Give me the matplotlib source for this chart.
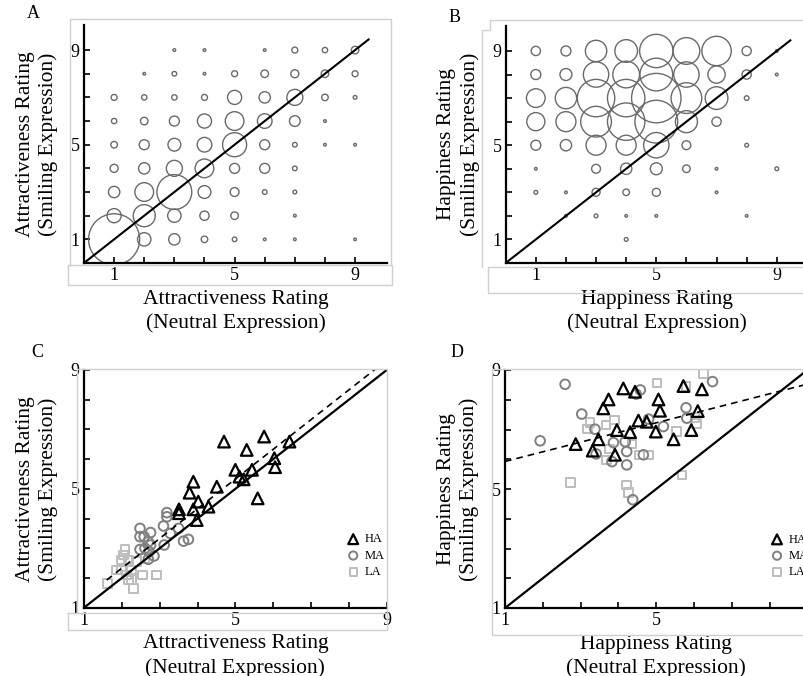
import numpy as np
import matplotlib
matplotlib.use("Agg")
import matplotlib.pyplot as plt
from matplotlib.lines import Line2D

plt.rcParams["font.family"] = ["Liberation Serif", "DejaVu Serif"]

W, H = 804, 676

# ---- panel A / B: rating counts, rows = smiling rating 1..9, cols = neutral rating 1..9
attr_counts = np.array([
    [366, 25, 18, 6, 3, 1, 1, 0, 1],
    [28, 68, 25, 12, 8, 0, 1, 0, 0],
    [18, 49, 170, 23, 11, 3, 2, 0, 0],
    [9, 18, 36, 49, 14, 14, 3, 0, 0],
    [6, 14, 23, 30, 81, 14, 3, 1, 1],
    [4, 8, 14, 28, 49, 30, 16, 1, 0],
    [5, 4, 4, 5, 28, 18, 36, 6, 2],
    [0, 1, 3, 1, 5, 8, 9, 8, 5],
    [0, 0, 1, 1, 0, 1, 5, 4, 8],
])
happy_counts = np.array([
    [0, 0, 0, 2, 0, 0, 0, 0, 0],
    [0, 1, 2, 1, 1, 0, 0, 1, 0],
    [2, 1, 9, 6, 9, 0, 1, 0, 0],
    [1, 0, 11, 18, 20, 8, 1, 0, 2],
    [14, 18, 56, 56, 90, 11, 0, 2, 0],
    [46, 56, 132, 196, 256, 68, 12, 0, 0],
    [49, 64, 196, 196, 342, 132, 72, 3, 0],
    [14, 20, 90, 100, 150, 90, 42, 12, 1],
    [12, 14, 64, 72, 156, 100, 121, 12, 1],
])
ratings = np.arange(1, 10)

# ---- panel C: mean attractiveness per face (neutral, smiling)
attr_ha_x = [4.70, 5.76, 6.43, 5.30, 6.03, 6.05, 5.00, 5.11, 5.22, 5.44,
             3.89, 3.79, 4.51, 5.59, 4.02, 3.89, 4.29, 3.51, 3.51, 3.98]
attr_ha_y = [6.59, 6.76, 6.59, 6.31, 6.03, 5.73, 5.64, 5.41, 5.32, 5.64,
             5.24, 4.87, 5.07, 4.68, 4.57, 4.31, 4.40, 4.31, 4.18, 3.95]
attr_ma_x = [3.19, 3.19, 3.10, 3.50, 3.28, 3.63, 3.76, 3.12, 2.48, 2.48,
             2.59, 2.76, 2.70, 2.48, 2.61, 2.72, 2.85, 2.70, 2.76]
attr_ma_y = [4.20, 4.06, 3.75, 3.67, 3.50, 3.24, 3.30, 3.11, 3.67, 3.39,
             3.39, 3.53, 3.22, 2.96, 3.00, 2.89, 2.74, 2.63, 3.11]
attr_la_x = [2.08, 2.04, 1.99, 1.86, 1.99, 1.62, 2.17, 2.17, 2.26, 2.31,
             2.55, 2.92, 2.39, 2.26, 2.13, 2.61]
attr_la_y = [2.96, 2.77, 2.60, 2.27, 2.27, 1.82, 2.60, 1.93, 1.95, 1.65,
             2.10, 2.10, 2.55, 2.27, 2.10, 2.66]
attr_fit = (1.0, 0.33)          # slope, intercept
attr_fit_range = (1.6, 8.7)

# ---- panel D: mean happiness per face (neutral, smiling)
happy_ha_x = [4.13, 4.44, 3.74, 3.60, 5.06, 5.10, 5.72, 6.21, 6.10, 4.53,
              4.75, 3.96, 4.31, 4.99, 5.93, 5.46, 2.87, 3.47, 3.32, 3.91]
happy_ha_y = [8.38, 8.27, 8.01, 7.71, 8.01, 7.63, 8.46, 8.35, 7.62, 7.30,
              7.26, 6.98, 6.91, 6.93, 6.98, 6.67, 6.51, 6.67, 6.29, 6.15]
happy_ma_x = [2.59, 1.93, 3.03, 3.38, 3.41, 3.83, 3.87, 4.18, 4.22, 4.22,
              4.38, 4.58, 4.47, 4.80, 5.19, 4.66, 5.79, 5.81, 6.49]
happy_ma_y = [8.52, 6.62, 7.52, 7.01, 6.18, 5.92, 6.56, 6.59, 6.26, 5.81,
              4.64, 8.33, 8.19, 7.35, 7.10, 6.15, 7.73, 7.38, 8.61]
happy_la_x = [6.25, 5.02, 5.79, 3.25, 3.18, 3.67, 3.90, 3.76, 3.69, 4.36,
              4.56, 4.80, 5.53, 6.03, 6.06, 5.68, 2.74, 4.22, 4.27]
happy_la_y = [8.89, 8.57, 8.44, 7.23, 7.01, 7.15, 7.32, 6.34, 5.98, 6.51,
              6.15, 6.15, 6.93, 7.41, 7.21, 5.47, 5.22, 5.14, 4.88]
happy_fit = (0.325, 5.60)
happy_fit_range = (1.0, 9.5)

group_labels = ["HA", "MA", "LA"]

FRAME = "#cfcfcf"


def px_axes(left, top, right, bottom):
    """Axes rectangle given in top-origin pixel coordinates."""
    return [left / W, 1 - bottom / H, (right - left) / W, (bottom - top) / H]


def gray_line(fig, xs, ys):
    fig.add_artist(Line2D([x / W for x in xs], [1 - y / H for y in ys],
                          transform=fig.transFigure, color=FRAME, lw=1.0))


def style_axes(ax, lims, xlabel, ylabel):
    ax.set_xlim(*lims)
    ax.set_ylim(*lims)
    for s in ("top", "right"):
        ax.spines[s].set_visible(False)
    for s in ("left", "bottom"):
        ax.spines[s].set_linewidth(1.6)
    ax.set_xticks(ratings)
    ax.set_yticks(ratings)
    lab = ["1", "", "", "", "5", "", "", "", "9"]
    ax.set_xticklabels(lab)
    ax.set_yticklabels(lab)
    ax.tick_params(direction="in", length=4, width=1.2, labelsize=13, pad=3)
    ax.set_xlabel(xlabel, fontsize=15.5, linespacing=1.3, labelpad=4)
    ax.set_ylabel(ylabel, fontsize=15.5, linespacing=1.25, labelpad=9)


def bubbles(ax, counts):
    yy, xx = np.meshgrid(ratings, ratings, indexing="ij")
    m = counts > 0
    ax.scatter(xx[m], yy[m], s=counts[m] * 3.7, facecolors="none",
               edgecolors="#6a6a6a", linewidths=1.0, zorder=2)
    ax.plot([0, 9.45], [0, 9.45], color="black", lw=1.5, zorder=3)


def groups(ax, hx, hy, mx, my, lx, ly, fit, rng, leg_xy):
    ax.scatter(hx, hy, marker="^", s=70, facecolors="none",
               edgecolors="black", linewidths=1.6, label=group_labels[0], zorder=4)
    ax.scatter(mx, my, marker="o", s=48, facecolors="none",
               edgecolors="#808080", linewidths=1.4, label=group_labels[1], zorder=3)
    ax.scatter(lx, ly, marker="s", s=38, facecolors="none",
               edgecolors="#bdbdbd", linewidths=1.4, label=group_labels[2], zorder=2)
    ax.plot([1, 9], [1, 9], color="black", lw=1.6, zorder=5)
    fx = np.array(rng)
    ax.plot(fx, fit[0] * fx + fit[1], color="black", lw=1.2,
            ls=(0, (4, 3)), zorder=5)
    ax.legend(loc="upper left", bbox_to_anchor=leg_xy,
              bbox_transform=ax.transData, frameon=False, fontsize=9,
              handlelength=1.0, handletextpad=0.4, labelspacing=0.35,
              borderpad=0, borderaxespad=0, markerscale=0.85)


fig = plt.figure(figsize=(W / 100, H / 100), dpi=100)

# light gray panel frames
gray_line(fig, [70, 70, 391, 391], [265, 19, 19, 265])
gray_line(fig, [68, 68, 392, 392, 68], [265, 285, 285, 265, 265])
gray_line(fig, [482, 482, 490, 490, 804], [267, 30, 30, 20, 20])
gray_line(fig, [804, 488, 488, 804], [267, 267, 293, 293])
gray_line(fig, [77, 77, 387, 387], [613, 369, 369, 613])
gray_line(fig, [68, 68, 387, 387, 68], [613, 630, 630, 613, 613])
gray_line(fig, [804, 492, 492, 804], [369, 369, 635, 635])

lab_attr_x = "Attractiveness Rating\n(Neutral Expression)"
lab_attr_y = "Attractiveness Rating\n(Smiling Expression)"
lab_hap_x = "Happiness Rating\n(Neutral Expression)"
lab_hap_y = "Happiness Rating\n(Smiling Expression)"

axA = fig.add_axes(px_axes(84, 25, 387, 263))
bubbles(axA, attr_counts)
style_axes(axA, (0, 10.06), lab_attr_x, lab_attr_y)

axB = fig.add_axes(px_axes(505.7, 26, 808.7, 263))
bubbles(axB, happy_counts)
style_axes(axB, (0, 10.06), lab_hap_x, lab_hap_y)

axC = fig.add_axes(px_axes(84, 370, 386.7, 607.7))
groups(axC, attr_ha_x, attr_ha_y, attr_ma_x, attr_ma_y, attr_la_x, attr_la_y,
       attr_fit, attr_fit_range, (7.95, 3.5))
style_axes(axC, (1, 9), lab_attr_x, lab_attr_y)

axD = fig.add_axes(px_axes(505, 370, 807.4, 608))
groups(axD, happy_ha_x, happy_ha_y, happy_ma_x, happy_ma_y, happy_la_x, happy_la_y,
       happy_fit, happy_fit_range, (8.03, 3.5))
style_axes(axD, (1, 9), lab_hap_x, lab_hap_y)

for letter, (x, y) in zip("ABCD", [(33, 14), (455, 18), (37, 353), (457, 353)]):
    fig.text(x / W, 1 - y / H, letter, fontsize=13, ha="center", va="center")

fig.savefig("out.png", dpi=100)
